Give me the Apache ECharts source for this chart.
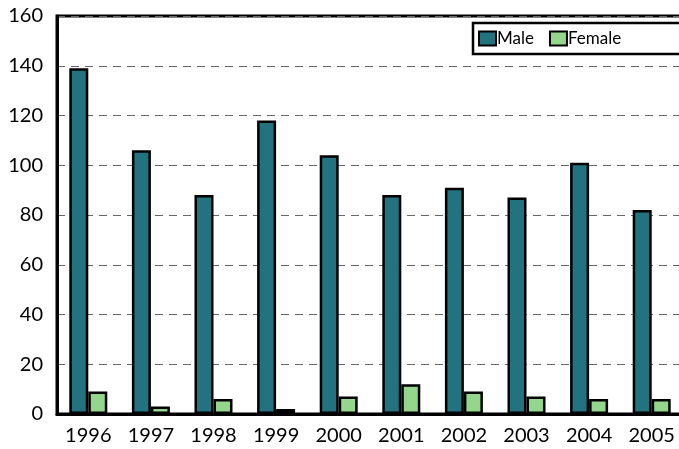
<!DOCTYPE html>
<html><head><meta charset="utf-8">
<script src="https://cdn.jsdelivr.net/npm/echarts@6/dist/echarts.min.js"></script>
<style>html,body{margin:0;padding:0;background:#fff;overflow:hidden}#c{width:679px;height:449px}</style>
</head><body><div id="c"></div>
<script>
const years = ['1996','1997','1998','1999','2000','2001','2002','2003','2004','2005'];
const male = [139,106,88,118,104,88,91,87,101,82];
const female = [9,3,6,2,7,12,9,7,6,6];
const yTicks = {min:0, max:160, interval:20};

const chart = echarts.init(document.getElementById('c'));
const font = 'Lato';
chart.setOption({
  animation:false,
  grid:{left:57, top:16, width:626, height:398, outerBoundsMode:'none', containLabel:false, show:true, borderColor:'#000', borderWidth:3, backgroundColor:'transparent'},
  legend:{
    orient:'horizontal', left:473, top:23, width:400, padding:[7,80,7,5], itemGap:15, itemWidth:17, itemHeight:14,
    icon:'rect', borderColor:'#000', borderWidth:2.5,
    textStyle:{fontFamily:font, fontSize:17, color:'#000', padding:[0,0,0,-4]},
    data:[{name:'Male', itemStyle:{borderColor:'#000', borderWidth:2}}, {name:'Female', itemStyle:{borderColor:'#000', borderWidth:2}}]
  },
  xAxis:{type:'category', data:years,
    axisLine:{lineStyle:{color:'#000', width:3}}, axisTick:{show:false},
    axisLabel:{fontFamily:font, fontSize:20, color:'#000', margin:12}},
  yAxis:{type:'value', min:yTicks.min, max:yTicks.max, interval:yTicks.interval,
    axisLine:{show:true, lineStyle:{color:'#000', width:3}}, axisTick:{show:false},
    axisLabel:{fontFamily:font, fontSize:20, color:'#000', margin:14},
    splitLine:{lineStyle:{color:'#666', type:[8,6], width:1.2}}},
  series:[
    {name:'Male', type:'bar', data:male, barWidth:19, barGap:'0%',
     itemStyle:{color:'#22737F', borderColor:'#000', borderWidth:2.5}},
    {name:'Female', type:'bar', data:female, barWidth:19,
     itemStyle:{color:'#94D68B', borderColor:'#000', borderWidth:2.5}}
  ]
});
</script></body></html>
